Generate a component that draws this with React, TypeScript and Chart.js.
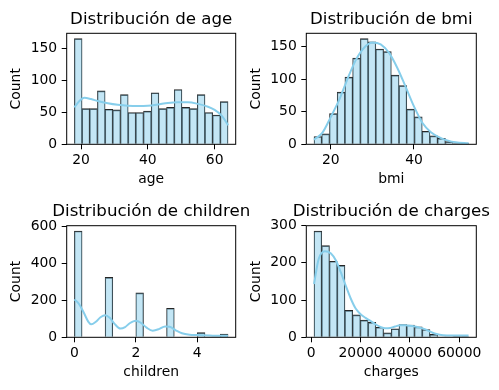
import React, { useEffect, useRef } from "react";
import { Chart, registerables } from "chart.js";

Chart.register(...registerables);

// ---------- data ----------
const AGE_RANGE = [18, 64];
const AGE_COUNTS = [166, 56, 56, 84, 55, 54, 78, 50, 50, 52, 81, 56, 58, 86, 58, 56, 78, 50, 46, 67];
const AGE_KDE_X = [18, 19.5, 21, 23, 25, 28, 31, 34, 37, 40, 43, 46, 49, 52, 55, 58, 60, 62, 63, 64];
const AGE_KDE_Y = [58, 68, 73, 71, 68, 64.5, 62, 60.5, 60, 60.5, 62.5, 65, 66, 66, 63.5, 59, 54, 45.5, 38.5, 30];
const AGE_X_TICKS = [20, 40, 60];
const AGE_Y_TICKS = [0, 50, 100, 150];

const BMI_RANGE = [15.96, 53.13];
const BMI_COUNTS = [12, 16, 47, 80, 103, 132, 162, 157, 146, 142, 106, 90, 54, 42, 20, 13, 9, 4, 1, 2];
const BMI_KDE_X = [15.96, 18, 20, 22, 24, 26, 28, 30, 32, 34, 36, 38, 40, 42, 44, 46, 48, 50, 53.13];
const BMI_KDE_Y = [7, 18, 42, 68, 100, 129, 148, 156, 153, 140, 117, 88, 58, 33, 19, 11, 6, 3, 1.5];
const BMI_X_TICKS = [20, 40];
const BMI_Y_TICKS = [0, 50, 100, 150];

const CHILDREN_RANGE = [0, 5];
const CHILDREN_COUNTS = [574, 0, 0, 0, 324, 0, 0, 0, 240, 0, 0, 0, 157, 0, 0, 0, 25, 0, 0, 18];
const CHILDREN_KDE_X = [0, 0.15, 0.3, 0.45, 0.55, 0.7, 0.85, 1.0, 1.15, 1.3, 1.5, 1.65, 1.8, 2.0, 2.15, 2.35, 2.55, 2.75, 2.95, 3.1, 3.3, 3.5, 3.75, 4.0, 4.5, 5.0];
const CHILDREN_KDE_Y = [205, 180, 135, 85, 70, 84, 108, 119, 105, 74, 47, 55, 76, 90, 80, 52, 36, 44, 59, 57, 38, 22, 14, 12, 9, 8];
const CHILDREN_X_TICKS = [0, 2, 4];
const CHILDREN_Y_TICKS = [0, 200, 400, 600];

const CHARGES_RANGE = [1121.87, 63770.43];
const CHARGES_COUNTS = [285, 246, 204, 193, 72, 60, 46, 40, 27, 12, 23, 34, 33, 28, 21, 8, 1, 1, 2, 2];
const CHARGES_KDE_X = [1122, 3000, 5500, 8000, 10000, 12000, 14000, 16000, 18000, 20000, 22000, 24000, 26000, 28000, 30000, 32000, 34000, 36000, 38000, 40000, 42000, 44000, 46000, 48000, 50000, 52000, 55000, 60000, 63770];
const CHARGES_KDE_Y = [143, 210, 231, 225, 206, 174, 138, 104, 77, 62, 52, 44, 35, 28, 24, 25, 29, 32, 32, 31, 29, 26, 22, 16, 10, 7, 5, 4.5, 4.5];
const CHARGES_X_TICKS = [0, 20000, 40000, 60000];
const CHARGES_Y_TICKS = [0, 100, 200, 300];

// ---------- layout ----------
type Box = { left: number; top: number; width: number; height: number; aL: number; aR: number; aT: number; aB: number };
const BOX_TL: Box = { left: 0, top: 0, width: 249, height: 195, aL: 66.7, aR: 235.7, aT: 33.3, aB: 144.3 };
const BOX_TR: Box = { left: 240, top: 0, width: 259, height: 195, aL: 66.3, aR: 236.3, aT: 33.3, aB: 144.3 };
const BOX_BL: Box = { left: 0, top: 195, width: 249, height: 195, aL: 66.7, aR: 235.7, aT: 30.7, aB: 142.3 };
const BOX_BR: Box = { left: 240, top: 195, width: 259, height: 195, aL: 66.3, aR: 236.3, aT: 30.7, aB: 142.3 };

const FONT = "DejaVu Sans";
const TICK_SIZE = 13.9;
const TITLE_SIZE = 16.67;

const frameTitlePlugin = {
  id: "frameTitle",
  afterDraw(chart: any, _args: any, opts: any) {
    const { ctx, chartArea: a } = chart;
    ctx.save();
    ctx.strokeStyle = "#000";
    ctx.lineWidth = 1;
    ctx.strokeRect(a.left, a.top, a.right - a.left, a.bottom - a.top);
    ctx.fillStyle = "#000";
    ctx.font = `${TITLE_SIZE}px "${FONT}"`;
    ctx.textAlign = "center";
    ctx.textBaseline = "alphabetic";
    ctx.fillText(opts.text, (a.left + a.right) / 2, a.top - 9.5);
    ctx.restore();
  },
};

type Spec = {
  title: string;
  xLabel: string;
  range: number[];
  counts: number[];
  kdeX: number[];
  kdeY: number[];
  xTicks: number[];
  yTicks: number[];
  box: Box;
};

function Panel({ spec }: { spec: Spec }) {
  const ref = useRef<HTMLCanvasElement>(null);
  useEffect(() => {
    const b = spec.box;
    const n = spec.counts.length;
    const [lo, hi] = spec.range;
    const bw = (hi - lo) / n;
    const span = hi - lo;
    const bars = spec.counts.map((c, i) => ({ x: lo + (i + 0.5) * bw, y: c > 0 ? c : null }));
    const kde = spec.kdeX.map((x, i) => ({ x, y: spec.kdeY[i] }));
    const ymax = 1.05 * Math.max(...spec.counts, ...spec.kdeY);
    const lh = TICK_SIZE * 1.2;
    const xTitleMid = b.aB + 39.5 - 0.346 * TICK_SIZE;
    const xTitlePad = b.height - xTitleMid - lh / 2;
    const yTitlePad = b.aL - 50 - lh / 2;
    const tickFont = { family: FONT, size: TICK_SIZE };
    const grid = {
      drawOnChartArea: false,
      drawTicks: true,
      tickLength: 5,
      color: "#000",
      lineWidth: 1,
      offset: false,
    };
    const chart = new Chart(ref.current as HTMLCanvasElement, {
      type: "bar",
      data: {
        datasets: [
          {
            type: "line",
            data: kde as any,
            borderColor: "#87CEEB",
            borderWidth: 2,
            pointRadius: 0,
            cubicInterpolationMode: "monotone",
            fill: false,
            order: 0,
          } as any,
          {
            type: "bar",
            data: bars as any,
            backgroundColor: "rgba(135,206,235,0.5)",
            borderColor: "#262626",
            borderWidth: { top: 1, left: 0.6, right: 0.6, bottom: 0 },
            borderSkipped: "start",
            barPercentage: 1,
            categoryPercentage: 1,
            order: 1,
          } as any,
        ],
      },
      options: {
        responsive: false,
        animation: false,
        events: [],
        layout: { padding: { left: 0, top: b.aT, right: b.width - b.aR, bottom: 0 } },
        plugins: {
          legend: { display: false },
          tooltip: { enabled: false },
          frameTitle: { text: spec.title },
        } as any,
        scales: {
          x: {
            type: "linear",
            offset: false,
            min: lo - 0.05 * span,
            max: hi + 0.05 * span,
            afterBuildTicks: (s: any) => {
              s.ticks = spec.xTicks.map((v) => ({ value: v }));
            },
            afterFit: (s: any) => {
              s.height = b.height - b.aB;
            },
            grid,
            border: { display: false },
            ticks: {
              color: "#000",
              font: tickFont,
              padding: 3,
              maxRotation: 0,
              autoSkip: false,
              callback: (v: any) => String(v),
            },
            title: {
              display: true,
              text: spec.xLabel,
              color: "#000",
              font: tickFont,
              padding: { top: 0, bottom: xTitlePad },
            },
          },
          y: {
            type: "linear",
            min: 0,
            max: ymax,
            afterBuildTicks: (s: any) => {
              s.ticks = spec.yTicks.map((v) => ({ value: v }));
            },
            afterFit: (s: any) => {
              s.width = b.aL;
            },
            grid,
            border: { display: false },
            ticks: {
              color: "#000",
              font: tickFont,
              padding: 4.5,
              autoSkip: false,
              callback: (v: any) => String(v),
            },
            title: {
              display: true,
              text: "Count",
              color: "#000",
              font: tickFont,
              padding: { top: yTitlePad, bottom: 0 },
            },
          },
        },
      } as any,
      plugins: [frameTitlePlugin as any],
    });
    return () => chart.destroy();
  }, [spec]);
  const b = spec.box;
  return (
    <canvas
      ref={ref}
      width={b.width}
      height={b.height}
      style={{ position: "absolute", left: b.left, top: b.top, width: b.width, height: b.height }}
    />
  );
}

const SPECS: Spec[] = [
  { title: "Distribución de age", xLabel: "age", range: AGE_RANGE, counts: AGE_COUNTS, kdeX: AGE_KDE_X, kdeY: AGE_KDE_Y, xTicks: AGE_X_TICKS, yTicks: AGE_Y_TICKS, box: BOX_TL },
  { title: "Distribución de bmi", xLabel: "bmi", range: BMI_RANGE, counts: BMI_COUNTS, kdeX: BMI_KDE_X, kdeY: BMI_KDE_Y, xTicks: BMI_X_TICKS, yTicks: BMI_Y_TICKS, box: BOX_TR },
  { title: "Distribución de children", xLabel: "children", range: CHILDREN_RANGE, counts: CHILDREN_COUNTS, kdeX: CHILDREN_KDE_X, kdeY: CHILDREN_KDE_Y, xTicks: CHILDREN_X_TICKS, yTicks: CHILDREN_Y_TICKS, box: BOX_BL },
  { title: "Distribución de charges", xLabel: "charges", range: CHARGES_RANGE, counts: CHARGES_COUNTS, kdeX: CHARGES_KDE_X, kdeY: CHARGES_KDE_Y, xTicks: CHARGES_X_TICKS, yTicks: CHARGES_Y_TICKS, box: BOX_BR },
];

export default function App() {
  return (
    <div
      style={{
        position: "fixed",
        left: 0,
        top: 0,
        width: 499,
        height: 390,
        background: "#fff",
        overflow: "hidden",
      }}
    >
      {SPECS.map((s) => (
        <Panel key={s.title} spec={s} />
      ))}
    </div>
  );
}
